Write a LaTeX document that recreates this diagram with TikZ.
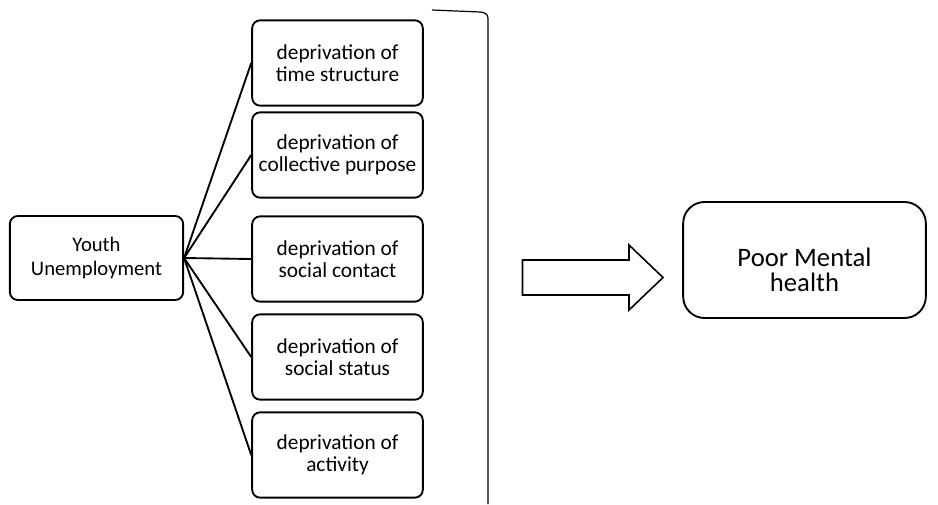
\documentclass[tikz,border=0pt]{standalone}
\usepackage{fontspec}
\setmainfont{Carlito}

\begin{document}
\begin{tikzpicture}[x=0.75pt, y=-0.75pt,
    smallbox/.style={draw, line width=1.4pt, rounded corners=6pt, align=center,
        minimum width=128pt, minimum height=64pt, inner sep=2pt,
        font=\fontsize{16}{16.8}\selectfont},
    bigbox/.style={draw, line width=1.4pt, rounded corners=16pt,
        minimum width=182pt, minimum height=87pt},
    bigtext/.style={align=center, font=\fontsize{20}{19}\selectfont},
    link/.style={line width=1.4pt}]
    \useasboundingbox (0,0) rectangle (938,504);

    \node[smallbox, minimum width=130pt, minimum height=63pt,
        font=\fontsize{15.5}{17.5}\selectfont] (youth) at (96.5, 258) {Youth\\Unemployment};

    \node[smallbox] (time) at (337.5, 63) {deprivation of\\time structure};
    \node[smallbox] (purpose) at (337.5, 155) {deprivation of\\collective purpose};
    \node[smallbox] (contact) at (337.5, 259) {deprivation of\\social contact};
    \node[smallbox] (status) at (337.5, 357) {deprivation of\\social status};
    \node[smallbox] (activity) at (337.5, 455) {deprivation of\\activity};

    \node[bigbox] (health) at (804.5, 260) {};
    \node[bigtext] (healthtext) at (804.5, 270) {Poor Mental\\health};

    \foreach \d in {time, purpose, contact, status, activity}
        \draw[link] (youth.east) -- (\d.west);

    % bracket
    \draw[line width=0.9pt] (432,10) -- (480,12) to[out=0,in=90] (488,18) -- (488,504);

    % block arrow
    \draw[line width=1.2pt, line join=miter] (522.5,260) -- (629,260) -- (629,245) -- (663,277.5)
        -- (629,310) -- (629,295) -- (522.5,295) -- cycle;
\end{tikzpicture}
\end{document}
